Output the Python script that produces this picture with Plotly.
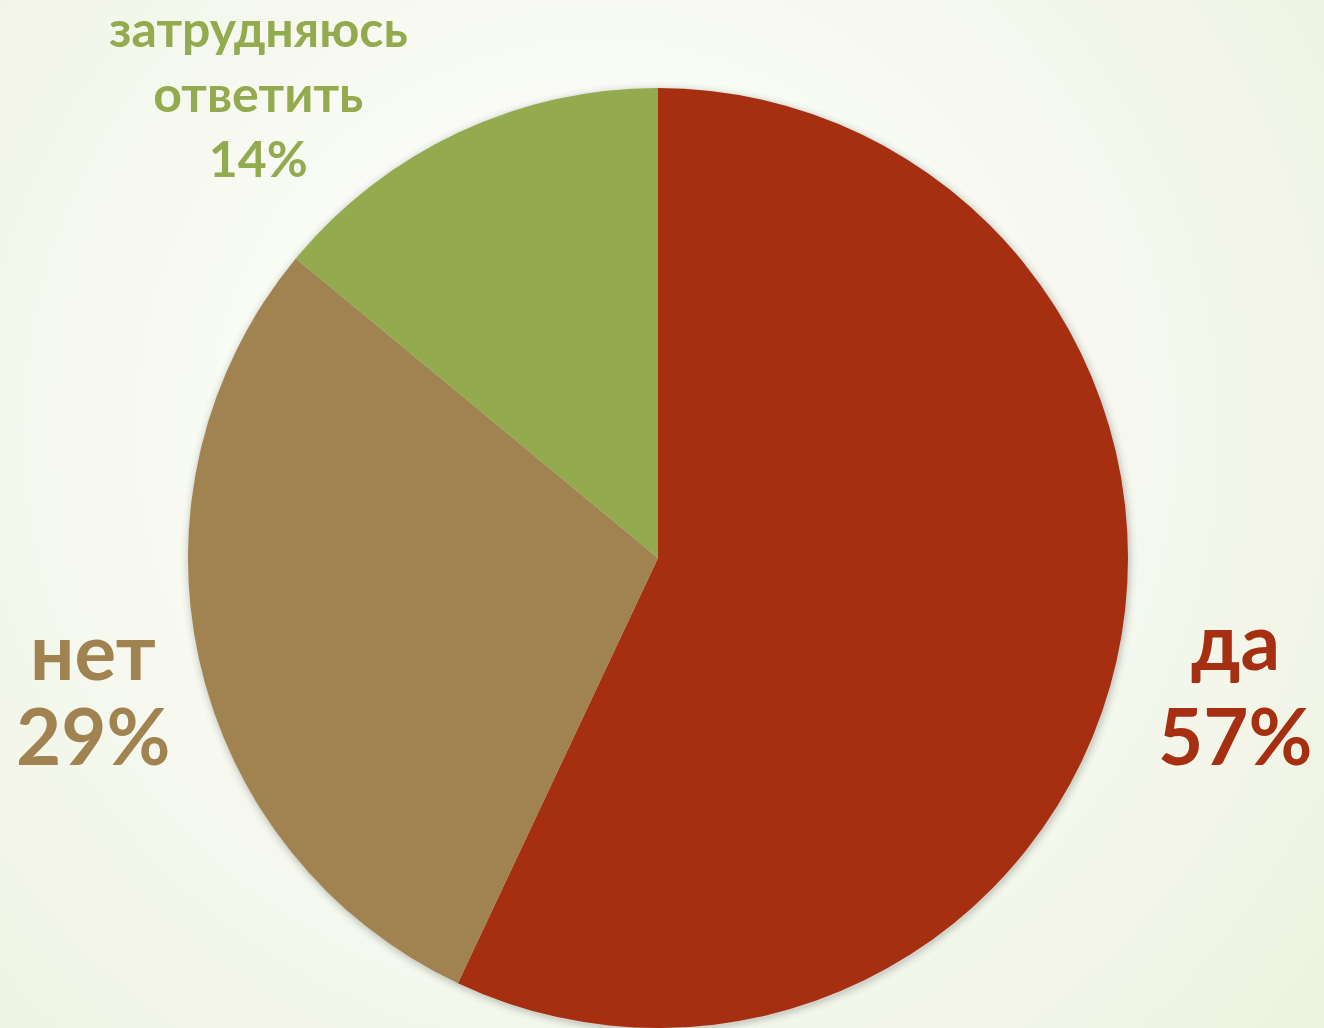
import plotly.graph_objects as go

labels = ["да", "нет", "затрудняюсь ответить"]
values = [57, 29, 14]
colors = ["#A52F10", "#A08350", "#93AA4E"]
label_lines = [["да", "57%"], ["нет", "29%"], ["затрудняюсь", "ответить", "14%"]]

W, H = 1324, 1028
cx, cy, R = 658, 558, 470

fig = go.Figure()
fig.add_trace(go.Pie(
    labels=labels, values=values, sort=False, direction="clockwise", rotation=0,
    marker=dict(colors=colors, line=dict(width=0)),
    textinfo="none", hoverinfo="label+percent", showlegend=False,
    domain=dict(x=[(cx - R) / W, (cx + R) / W], y=[1 - (cy + R) / H, 1 - (cy - R) / H]),
))

shapes = []
# background radial gradient
gcx, gcy = 600, 430
edge = (236, 241, 222)
center = (255, 255, 255)
steps = 24
for i in range(steps):
    r = 1000 - i * (1000 - 120) / (steps - 1)
    t = i / (steps - 1)
    c = tuple(int(round(edge[k] + (center[k] - edge[k]) * t)) for k in range(3))
    shapes.append(dict(type="circle", xref="paper", yref="paper", layer="below",
                       x0=(gcx - r) / W, x1=(gcx + r) / W,
                       y0=1 - (gcy + r) / H, y1=1 - (gcy - r) / H,
                       fillcolor="rgb(%d,%d,%d)" % c, line=dict(width=0)))
# soft shadow behind pie
for dr, op in [(8, 0.02), (5, 0.03), (3, 0.04), (1, 0.05)]:
    r = R + dr
    shapes.append(dict(type="circle", xref="paper", yref="paper", layer="below",
                       x0=(cx - r + 1) / W, x1=(cx + r + 1) / W,
                       y0=1 - (cy + r + 2) / H, y1=1 - (cy - r + 2) / H,
                       fillcolor="rgba(0,0,0,%s)" % op, line=dict(width=0)))

font = "Lato, 'Open Sans', sans-serif"
# (label index, x center px, list of line y centers px, font size)
placements = [
    (0, 1235, [640, 735], 78),
    (1, 93, [650, 735], 78),
]
annotations = []
for idx, xpx, ys, size in placements:
    for line, ypx in zip(label_lines[idx], ys):
        annotations.append(dict(
            x=xpx / W, y=1 - ypx / H, text="<b>" + line + "</b>",
            xref="paper", yref="paper", showarrow=False,
            xanchor="center", yanchor="middle",
            font=dict(family=font, size=size, color=colors[idx]),
        ))
annotations.append(dict(
    x=258 / W, y=1 - 93 / H, text="<b>" + "<br>".join(label_lines[2]) + "</b>",
    xref="paper", yref="paper", showarrow=False, align="center",
    xanchor="center", yanchor="middle",
    font=dict(family=font, size=50, color=colors[2]),
))

fig.update_layout(
    width=W, height=H, margin=dict(l=0, r=0, t=0, b=0),
    paper_bgcolor="rgb(%d,%d,%d)" % edge, plot_bgcolor="rgba(0,0,0,0)",
    shapes=shapes, annotations=annotations,
)
fig.write_html("out.html", config={"displayModeBar": False},
               post_script="document.body.style.margin='0';")
